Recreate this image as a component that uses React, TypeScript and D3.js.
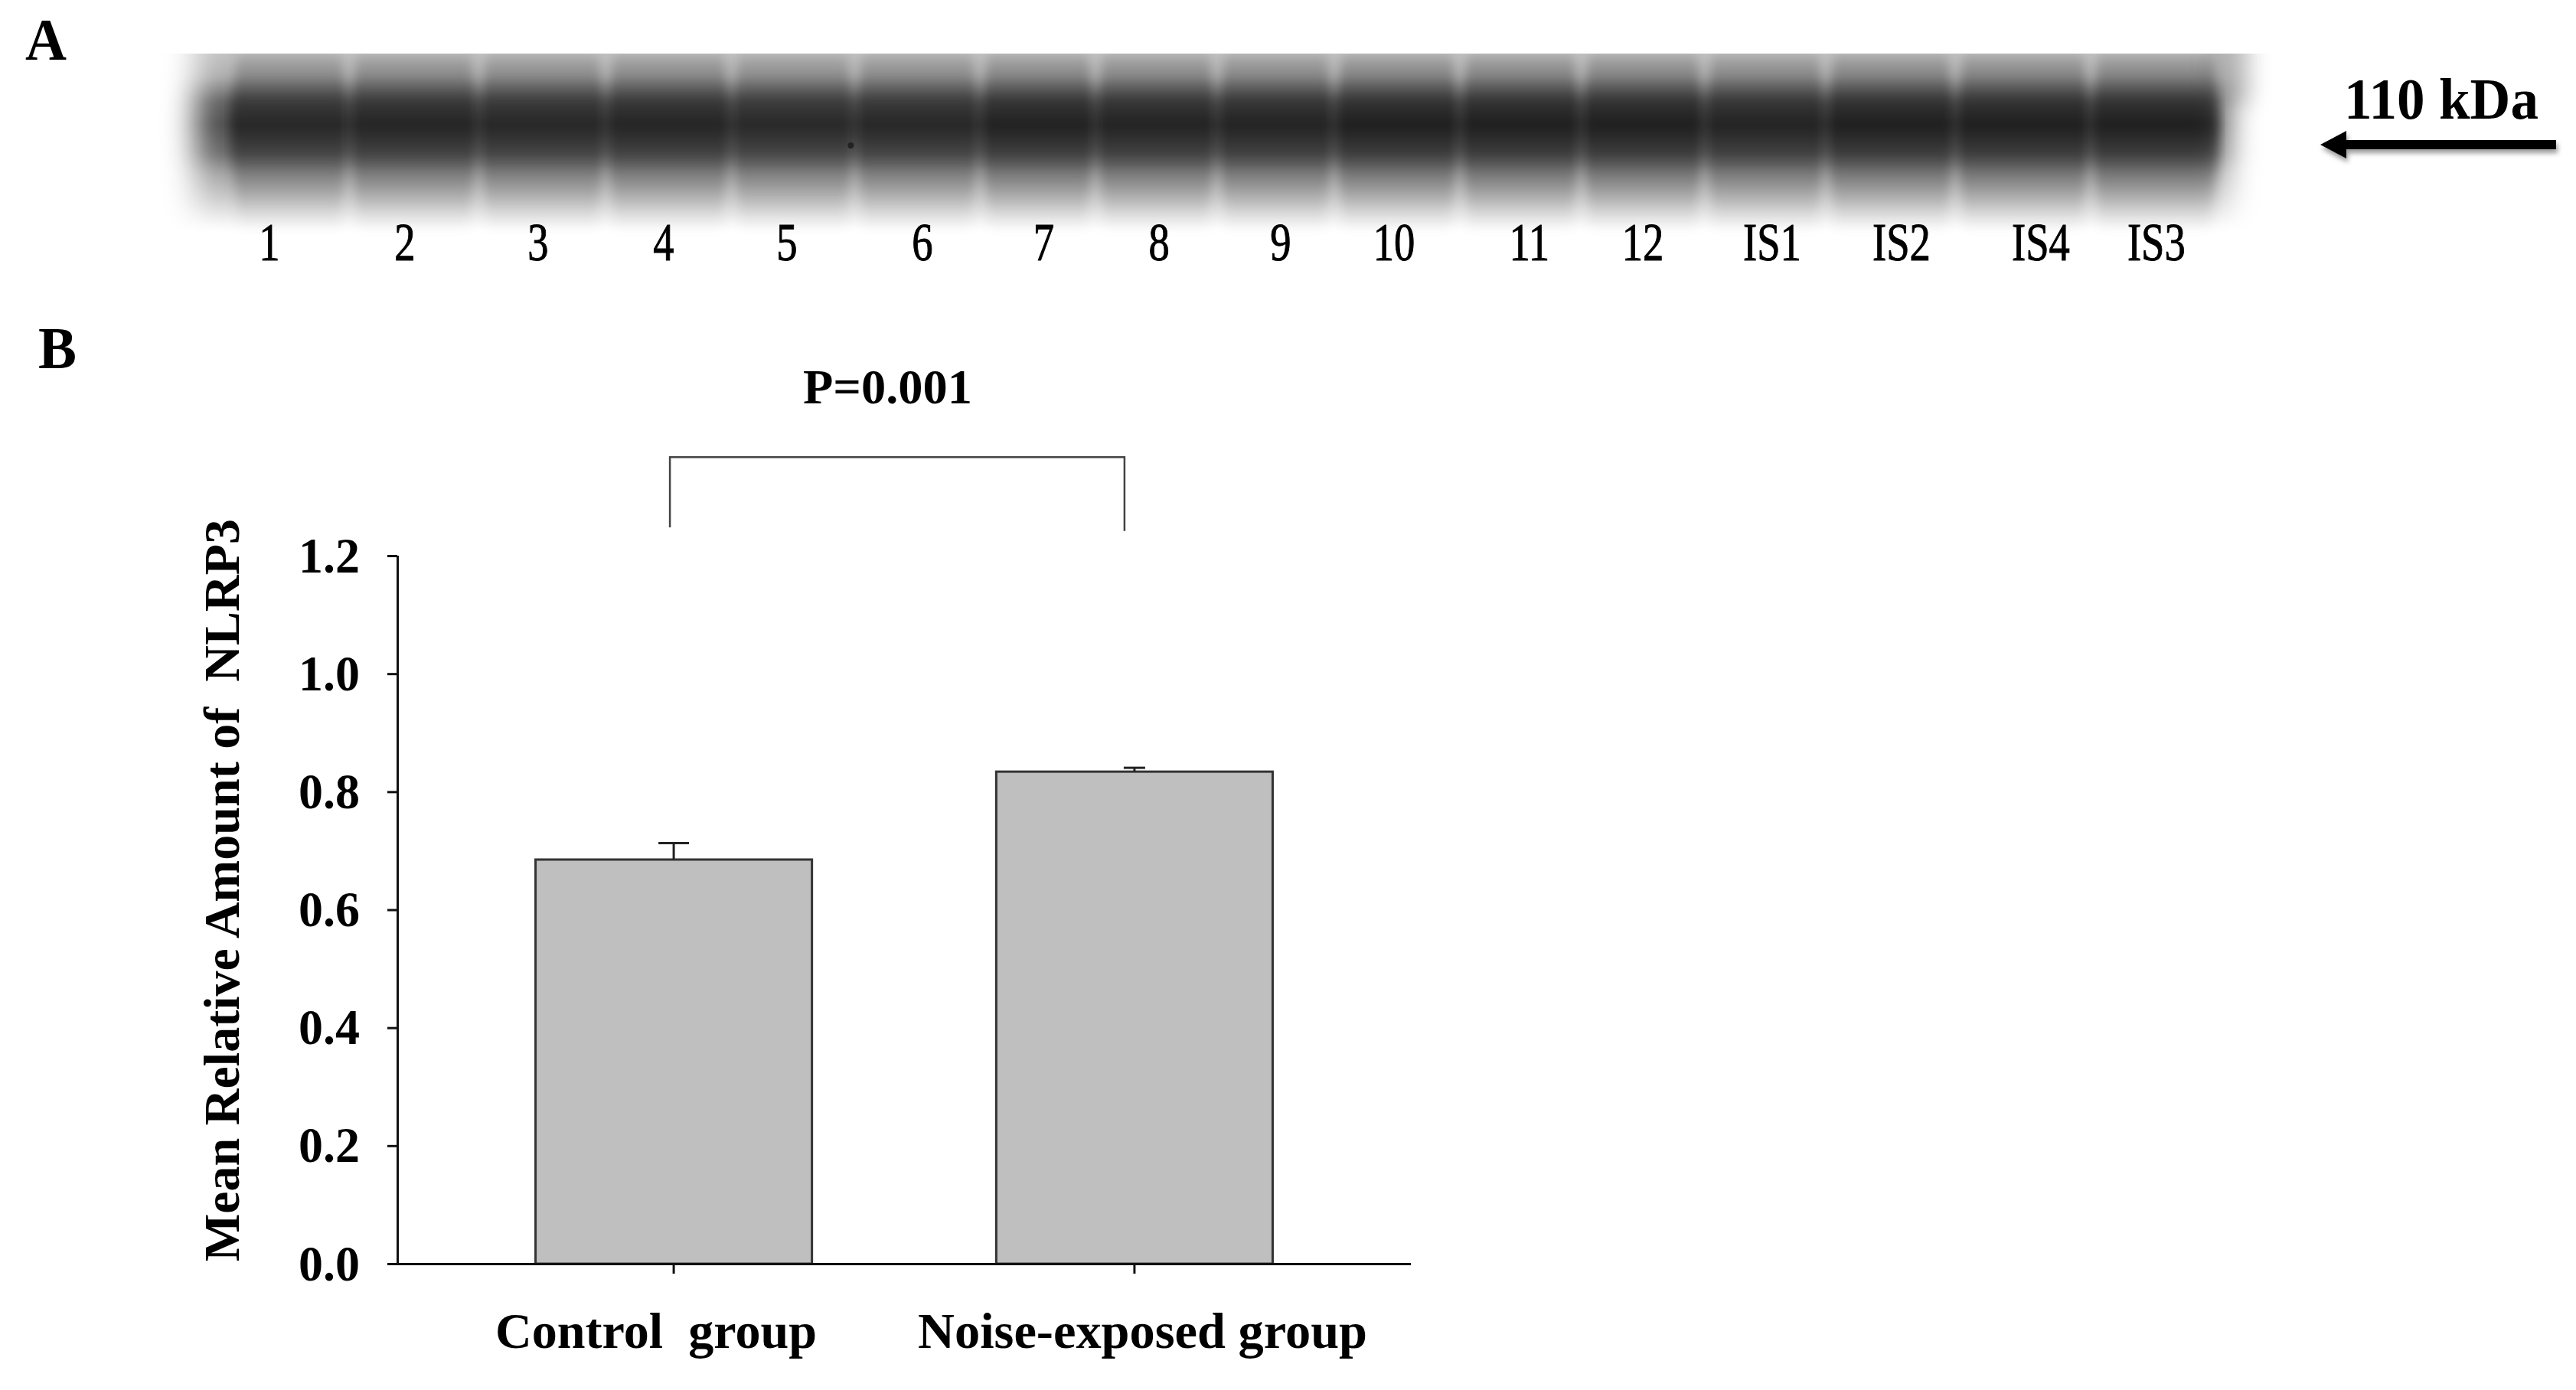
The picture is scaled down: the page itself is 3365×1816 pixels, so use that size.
import * as React from 'react';
import {useEffect, useRef} from 'react';
import * as d3 from 'd3';

const width = 3365;
const height = 1816;
const serif = '"Liberation Serif", "Times New Roman", serif';

// panel B values
const groups = ['Control', 'Noise-exposed'];
const groupLabels = ['Control  group', 'Noise-exposed group'];
const means = [0.685, 0.834];
const errorTops = [0.713, 0.8405];
const yTicks = [0, 0.2, 0.4, 0.6, 0.8, 1.0, 1.2];
const pValue = 'P=0.001';

// panel A, the blot. Positions along the gel are percent of its width
const laneLabels = ['1', '2', '3', '4', '5', '6', '7', '8', '9', '10', '11', '12', 'IS1', 'IS2', 'IS4', 'IS3'];
const laneLabelPos = [2, 8.8, 15.5, 21.8, 28, 34.8, 40.9, 46.7, 52.8, 58.5, 65.3, 71, 77.5, 84, 91, 96.8];
const laneEdges = [0, 6, 12.5, 18.9, 25.2, 31.4, 37.7, 43.5, 49.6, 55.5, 61.8, 67.9, 74.1, 80.2, 86.7, 93.5, 100];
const laneIntensity = [0.9, 0.93, 0.9, 0.93, 0.88, 0.9, 0.97, 0.95, 0.95, 1, 1, 1, 0.95, 1, 1, 1];
// vertical band profile, pixel row in the blot and how dark it is there
const profileRows = [70, 100, 133, 163, 200, 227, 260, 283, 300];
const laneDarkness = [0.1, 0.25, 0.47, 0.6, 0.43, 0.27, 0.12, 0.04, 0.02];
const gapDarkness = [0.24, 0.32, 0.62, 0.7, 0.58, 0.36, 0.2, 0.08, 0];
const laneWaist = [10, 7, 2, 1, 2, 5, 9, 11, 11];

export default function App() {
  const ref = useRef<SVGSVGElement>(null);

  useEffect(() => {
    const svg = d3.select(ref.current);
    svg.selectAll('*').remove();
    svg.style('font-family', serif);

    const label = (txt: string, x: number, y: number, size: number, len: number, weight = 'bold') =>
      svg.append('text')
        .attr('x', x)
        .attr('y', y)
        .attr('font-size', size)
        .attr('font-weight', weight)
        .attr('textLength', len)
        .attr('lengthAdjust', 'spacingAndGlyphs')
        .style('white-space', 'pre')
        .text(txt);

    // ---- panel A ----
    const gelX = d3.scaleLinear().domain([0, 100]).range([300, 2900]);
    const rows = profileRows;
    const top = rows[0];
    const bottom = rows[rows.length - 1];
    const defs = svg.append('defs');

    const gradient = (id: string, opacity: number[]) => {
      defs.append('linearGradient')
        .attr('id', id)
        .attr('gradientUnits', 'userSpaceOnUse')
        .attr('x1', 0).attr('x2', 0).attr('y1', top).attr('y2', bottom)
        .selectAll('stop')
        .data(opacity)
        .join('stop')
        .attr('offset', (_, i) => (rows[i] - top) / (bottom - top))
        .attr('stop-color', '#000')
        .attr('stop-opacity', d => d);
    };
    gradient('laneGrad', laneDarkness);
    gradient('gapGrad', gapDarkness);

    defs.append('filter').attr('id', 'soft').attr('x', '-5%').attr('width', '110%')
      .attr('y', '-20%').attr('height', '140%')
      .append('feGaussianBlur').attr('stdDeviation', 7);
    defs.append('filter').attr('id', 'bedSoft').attr('x', '-5%').attr('width', '110%')
      .attr('y', '-20%').attr('height', '140%')
      .append('feGaussianBlur').attr('stdDeviation', '20 5');
    defs.append('filter').attr('id', 'tailSoft').attr('x', '-100%').attr('width', '300%')
      .attr('y', '-50%').attr('height', '200%')
      .append('feGaussianBlur').attr('stdDeviation', 14);
    defs.append('filter').attr('id', 'shadow').attr('x', '-5%').attr('width', '110%')
      .attr('y', '-50%').attr('height', '200%')
      .append('feGaussianBlur').attr('stdDeviation', 3);
    defs.append('clipPath').attr('id', 'gelClip')
      .append('rect').attr('x', 200).attr('y', top).attr('width', 2900).attr('height', 300);

    const gel = svg.append('g').attr('clip-path', 'url(#gelClip)');

    // faint tail at the top right corner of the blot
    gel.append('rect')
      .attr('x', gelX(100) - 10)
      .attr('y', top - 40)
      .attr('width', 50)
      .attr('height', 105)
      .attr('fill', '#000')
      .attr('fill-opacity', 0.2)
      .attr('filter', 'url(#tailSoft)');

    gel.append('rect')
      .attr('x', gelX(0) - 45)
      .attr('y', top - 40)
      .attr('width', gelX(100) - gelX(0) + 55)
      .attr('height', bottom - top + 60)
      .attr('fill', 'url(#gapGrad)')
      .attr('filter', 'url(#bedSoft)');

    const opacity = d3.scaleLinear().domain([0.88, 1]).range([0.8, 1]);
    const lanes = d3.range(laneIntensity.length);
    gel.selectAll('path.lane')
      .data(lanes)
      .join('path')
      .attr('class', 'lane')
      .attr('d', i => d3.area<number>()
        .y((_, k) => rows[k])
        .x0((w) => gelX(laneEdges[i]) + w)
        .x1((w) => gelX(laneEdges[i + 1]) - w)
        .curve(d3.curveBasis)(laneWaist))
      .attr('fill', 'url(#laneGrad)')
      .attr('fill-opacity', i => opacity(laneIntensity[i]))
      .attr('filter', 'url(#soft)');

    // speck between lanes 5 and 6
    gel.append('circle')
      .attr('cx', gelX(laneEdges[5]) - 5)
      .attr('cy', 190)
      .attr('r', 4)
      .attr('fill', '#222');

    svg.append('g')
      .selectAll('text')
      .data(laneLabels)
      .join('text')
      .attr('transform', (_, i) => `translate(${gelX(laneLabelPos[i])},340) scale(0.78,1)`)
      .attr('text-anchor', 'middle')
      .attr('font-size', 70)
      .attr('stroke', '#000')
      .attr('stroke-width', 1)
      .text(d => d);

    label('A', 33, 78, 78, 54);
    label('110 kDa', 3062, 155, 76, 254);

    const arrow = d3.line();
    const arrowPts: [number, number][] = [[3031, 189], [3065, 171], [3065, 183], [3339, 183], [3339, 195], [3065, 195], [3065, 207]];
    svg.append('path')
      .attr('d', arrow(arrowPts) + 'Z')
      .attr('transform', 'translate(2,5)')
      .attr('fill', '#999')
      .attr('filter', 'url(#shadow)');
    svg.append('path').attr('d', arrow(arrowPts) + 'Z').attr('fill', '#000');

    // ---- panel B ----
    label('B', 50, 481, 78, 50);

    const y = d3.scaleLinear().domain([0, 1.2]).range([1651, 726]);
    const x = d3.scaleBand<string>()
      .domain(groups)
      .range([519, 1843])
      .paddingInner(0.4)
      .paddingOuter(0.3);
    const centre = (g: string) => x(g)! + x.bandwidth() / 2;

    svg.append('g')
      .selectAll('rect')
      .data(groups)
      .join('rect')
      .attr('x', d => x(d)!)
      .attr('y', (_, i) => y(means[i]))
      .attr('width', x.bandwidth())
      .attr('height', (_, i) => y(0) - y(means[i]))
      .attr('fill', '#bfbfbf')
      .attr('stroke', '#333')
      .attr('stroke-width', 3);

    const capWidth = [40, 28];
    const errors = svg.append('g').attr('stroke', '#222').attr('stroke-width', 3);
    groups.forEach((g, i) => {
      errors.append('line')
        .attr('x1', centre(g)).attr('x2', centre(g))
        .attr('y1', y(means[i])).attr('y2', y(errorTops[i]));
      errors.append('line')
        .attr('x1', centre(g) - capWidth[i] / 2).attr('x2', centre(g) + capWidth[i] / 2)
        .attr('y1', y(errorTops[i])).attr('y2', y(errorTops[i]));
    });

    const yAxis = svg.append('g')
      .attr('transform', `translate(${x.range()[0]},0)`)
      .call(d3.axisLeft(y).tickValues(yTicks).tickFormat(d3.format('.1f')).tickSize(13).tickPadding(36));
    yAxis.selectAll('text')
      .attr('font-family', serif)
      .attr('font-size', 66)
      .attr('font-weight', 'bold')
      .attr('dy', 21)
      .attr('textLength', 80)
      .attr('lengthAdjust', 'spacingAndGlyphs');

    const xAxis = svg.append('g')
      .attr('transform', `translate(0,${y(0)})`)
      .call(d3.axisBottom(x).tickSize(13).tickFormat(() => ''));
    [yAxis, xAxis].forEach(a => {
      a.selectAll('.domain, .tick line').attr('stroke', '#111').attr('stroke-width', 3);
    });
    xAxis.select('.domain').attr('d', `M506,0.5H${x.range()[1]}`);
    yAxis.select('.domain').attr('d', `M0.5,${y.range()[1]}V${y.range()[0]}`);

    label(groupLabels[0], 647, 1761, 66, 420);
    label(groupLabels[1], 1199, 1761, 66, 587);

    svg.append('text')
      .attr('transform', 'translate(312,1648) rotate(-90)')
      .attr('font-size', 66)
      .attr('font-weight', 'bold')
      .attr('textLength', 970)
      .attr('lengthAdjust', 'spacingAndGlyphs')
      .style('white-space', 'pre')
      .text('Mean Relative Amount of  NLRP3');

    // significance bracket, ends hang at slightly different heights like the original
    const bracket = d3.line();
    svg.append('path')
      .attr('d', bracket([
        [centre(groups[0]) - 5, y(1.248)],
        [centre(groups[0]) - 5, y(1.367)],
        [centre(groups[1]) - 13, y(1.367)],
        [centre(groups[1]) - 13, y(1.242)],
      ]))
      .attr('fill', 'none')
      .attr('stroke', '#444')
      .attr('stroke-width', 2.5);

    label(pValue, 1049, 527, 64, 221);
  }, []);

  return (
    <svg
      ref={ref}
      width={width}
      height={height}
      viewBox={`0 0 ${width} ${height}`}
      style={{position: 'absolute', left: 0, top: 0, display: 'block', background: '#fff'}}
    />
  );
}
